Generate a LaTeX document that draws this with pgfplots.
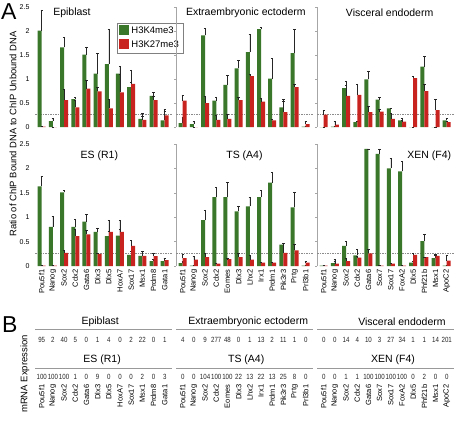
\documentclass[border=0pt]{standalone}
\usepackage{pgfplots}
\pgfplotsset{compat=1.18}
\usepackage{pgfplotstable}
\usepackage{graphicx}
\usepackage{fontspec}
\setmainfont{Liberation Sans}
\setsansfont{Liberation Sans}
\definecolor{kgreen}{HTML}{3A772A}
\definecolor{kred}{HTML}{C8231E}

% columns: x, H3K4me3 value, error, H3K27me3 value, error
\pgfplotstableread{
x g ge r re
0 2.01 0.43 0.01 0
1 0.12 0.06 0.00 0
2 1.66 0.22 0.56 0.22
3 0.58 0.04 0.41 0.14
4 1.51 0.16 0.80 0.17
5 1.11 0.43 0.74 0.09
6 1.31 0.72 0.39 0.18
7 1.11 0.15 0.72 0.37
8 0.83 0.10 0.90 0.29
9 0.17 0.12 0.15 0.07
10 0.65 0.07 0.56 0.08
11 0.14 0.22 0.24 0.09
}\epi
\pgfplotstableread{
x g ge r re
0 0.08 0.13 0.55 0.12
1 0.06 0.05 0.00 0
2 1.91 0.15 0.50 0.14
3 0.55 0.08 0.15 0.09
4 0.88 0.19 0.17 0.10
5 1.22 0.17 0.56 0.07
6 1.56 0.37 1.06 0.04
7 2.04 0.04 0.53 0.06
8 1.01 0.42 0.14 0.03
9 0.41 0.16 0.31 0.22
10 1.54 0.49 0.83 0.07
11 0.01 0 0.06 0.06
}\exe
\pgfplotstableread{
x g ge r re
0 0.00 0 0.26 0.08
1 0.01 0 0.05 0.07
2 0.81 0.15 0.65 0.22
3 0.10 0.03 0.67 0.23
4 0.99 0.18 0.31 0.13
5 0.57 0.05 0.32 0.04
6 0.39 0.01 0.17 0.11
7 0.14 0.05 0.11 0.03
8 0.00 0 1.02 0.04
9 1.26 0.21 0.75 0.15
10 0.00 0 0.35 0.23
11 0.14 0.04 0.10 0.03
}\ve
\pgfplotstableread{
x g ge r re
0 1.63 0.20 0.01 0
1 0.80 0.22 0.01 0
2 1.51 0.04 0.27 0.05
3 0.80 0.15 0.61 0.15
4 0.91 0.15 0.65 0.08
5 0.70 0.08 0.25 0.02
6 0.61 0.11 0.70 0.23
7 0.625 0.125 0.70 0.23
8 0.23 0.07 0.41 0.12
9 0.21 0.09 0.21 0.10
10 0.10 0.03 0.20 0.07
11 0.10 0.06 0.12 0.04
}\es
\pgfplotstableread{
x g ge r re
0 0.06 0.04 0.16 0.08
1 0.01 0 0.13 0.07
2 0.94 0.21 0.18 0.09
3 1.41 0.20 0.05 0
4 1.41 0.31 0.14 0.01
5 1.12 0.11 0.18 0.09
6 1.22 0.19 0.13 0.10
7 1.41 0.14 0.07 0.01
8 1.71 0.21 0.07 0.005
9 0.44 0.02 0.27 0.20
10 1.20 0.32 0.32 0.12
11 0.01 0 0.07 0.03
}\ts
\pgfplotstableread{
x g ge r re
0 0.01 0 0.01 0
1 0.06 0.04 0.05 0.08
2 0.41 0.10 0.10 0.06
3 0.22 0.12 0.17 0.04
4 2.40 0.00 0.26 0.08
5 2.30 0.10 0.01 0
6 2.00 0.20 0.05 0.01
7 1.94 0.20 0.01 0
8 0.07 0.03 0.23 0.04
9 0.51 0.15 0.18 0
10 0.16 0.07 0.21 0.04
11 0.01 0 0.11 0.11
}\xen

\def\genesL{Pou5f1,Nanog,Sox2,Cdx2,Gata6,Dlx3,Dlx5,HoxA7,Sox17,Msx1,Prdm8,Gata1}
\def\genesM{Pou5f1,Nanog,Sox2,Cdx2,Eomes,Dlx3,Lhx2,Irx1,Prdm1,Pik3r3,Prtg,Prl3b1}
\def\genesR{Pou5f1,Nanog,Sox2,Cdx2,Gata6,Sox7,Sox17,FoxA2,Dlx5,Phf21b,Msx1,ApoC2}

\pgfplotsset{
  panel/.style={
    scale only axis, width=137pt,
    xmin=-0.6, xmax=11.65, ymin=0, ymax=2.5,
    axis lines*=left,
    x axis line style={draw=none},
    y axis line style={draw=black!35, line width=0.5pt},
    xtick={0,...,11}, xticklabels={},
    x tick style={draw=none},
    ytick={0,0.5,1,1.5,2,2.5},
    y tick style={draw=black!35, line width=0.5pt},
    tick align=outside, major tick length=2pt,
    yticklabels={},
    tick label style={font=\fontsize{7}{8}\selectfont},
    xticklabel style={rotate=90, anchor=east, font=\fontsize{7.5}{8}\selectfont, inner sep=1.5pt},
    clip=false,
  },
  leftcol/.style={y axis line style={draw=none}, y tick style={draw=none},
    yticklabels={0,0.5,1,1.5,2,2.5}},
  gbar/.style={ybar, bar width=4pt, bar shift=-2pt, fill=kgreen, draw=none,
    error bars/.cd, y dir=plus, y explicit,
    error bar style={black!85, line width=0.5pt},
    error mark options={rotate=90, black!85, mark size=1.2pt, line width=0.5pt}},
  rbar/.style={ybar, bar width=4pt, bar shift=2pt, fill=kred, draw=none,
    error bars/.cd, y dir=plus, y explicit,
    error bar style={black!85, line width=0.5pt},
    error mark options={rotate=90, black!85, mark size=1.2pt, line width=0.5pt}},
  bpanel/.style={
    scale only axis, width=137pt, height=72pt,
    xmin=-0.6, xmax=11.65, ymin=38, ymax=110,
    axis lines*=left, axis line style={draw=none}, tick style={draw=none},
    xtick={0,...,11}, ytick=\empty, clip=false,
    xticklabel style={rotate=90, anchor=east, font=\fontsize{7.5}{8}\selectfont, inner sep=1.5pt},
  },
  numrow/.style={only marks, mark=*, mark size=0pt, mark options={draw=none, fill=none},
    point meta=explicit symbolic,
    nodes near coords={\scalebox{0.82}[1]{\pgfplotspointmeta}},
    every node near coord/.append style={anchor=center, inner sep=0pt, font=\fontsize{7.5}{8}\selectfont, text=black!85}},
}
\newcommand{\dashref}{\draw[black!45, line width=0.4pt, dash pattern=on 1.5pt off 1pt] (axis cs:-0.6,0.27) -- (axis cs:11.65,0.27);}
\newcommand{\ttl}[3]{\node[font=\fontsize{10.5}{12}\selectfont] at (rel axis cs:#1,#2) {#3};}

\begin{document}
\begin{tikzpicture}
\useasboundingbox (0pt,0pt) rectangle (454pt,421pt);

% ---------- Panel A, top row ----------
\begin{axis}[panel, leftcol, height=120pt, at={(35pt,294pt)}, anchor=south west,
  legend style={at={(0.6,0.867)}, anchor=north west, draw=black!50, line width=0.5pt,
    font=\fontsize{9.5}{11}\selectfont, inner sep=2pt, row sep=2pt, cells={anchor=west}},
  legend image code/.code={\fill[#1] (0pt,-0.4em) rectangle (10pt,0.6em);}]
\dashref
\addplot[gbar] table[x=x, y=g, y error=ge]{\epi};
\addlegendentry{H3K4me3}
\addplot[rbar] table[x=x, y=r, y error=re]{\epi};
\addlegendentry{H3K27me3}
\ttl{0.27}{0.95}{Epiblast}
\end{axis}

\begin{axis}[panel, height=120pt, at={(176pt,294pt)}, anchor=south west]
\dashref
\addplot[gbar] table[x=x, y=g, y error=ge]{\exe};
\addplot[rbar] table[x=x, y=r, y error=re]{\exe};
\ttl{0.51}{0.95}{Extraembryonic ectoderm}
\end{axis}

\begin{axis}[panel, height=120pt, at={(317pt,294pt)}, anchor=south west]
\dashref
\addplot[gbar] table[x=x, y=g, y error=ge]{\ve};
\addplot[rbar] table[x=x, y=r, y error=re]{\ve};
\ttl{0.53}{0.95}{Visceral endoderm}
\end{axis}

% ---------- Panel A, bottom row ----------
\begin{axis}[panel, leftcol, height=122pt, at={(35pt,155pt)}, anchor=south west,
  xticklabels/.expanded={\genesL}]
\dashref
\addplot[gbar] table[x=x, y=g, y error=ge]{\es};
\addplot[rbar] table[x=x, y=r, y error=re]{\es};
\ttl{0.47}{0.90}{ES (R1)}
\end{axis}

\begin{axis}[panel, height=122pt, at={(176pt,155pt)}, anchor=south west,
  xticklabels/.expanded={\genesM}]
\dashref
\addplot[gbar] table[x=x, y=g, y error=ge]{\ts};
\addplot[rbar] table[x=x, y=r, y error=re]{\ts};
\ttl{0.50}{0.90}{TS (A4)}
\end{axis}

\begin{axis}[panel, height=122pt, at={(317pt,155pt)}, anchor=south west,
  xticklabels/.expanded={\genesR}]
\dashref
\addplot[gbar] table[x=x, y=g, y error=ge]{\xen};
\addplot[rbar] table[x=x, y=r, y error=re]{\xen};
\ttl{0.82}{0.90}{XEN (F4)}
\end{axis}

% ---------- Panel B ----------
\begin{axis}[bpanel, at={(35pt,38pt)}, anchor=south west, xticklabels/.expanded={\genesL}]
\addplot[numrow] coordinates {(0,81)[95] (1,81)[2] (2,81)[40] (3,81)[5] (4,81)[0] (5,81)[1] (6,81)[4] (7,81)[0] (8,81)[2] (9,81)[22] (10,81)[0] (11,81)[1]};
\addplot[numrow] coordinates {(0,44)[100] (1,44)[100] (2,44)[100] (3,44)[1] (4,44)[0] (5,44)[9] (6,44)[0] (7,44)[0] (8,44)[0] (9,44)[2] (10,44)[0] (11,44)[3]};
\draw[black!40, line width=0.5pt] (axis cs:-0.6,92) -- (axis cs:11.65,92);
\draw[black!40, line width=0.5pt] (axis cs:-0.6,53) -- (axis cs:11.65,53);
\node[font=\fontsize{10.5}{12}\selectfont] at (axis cs:5.23,99) {Epiblast};
\node[font=\fontsize{10.5}{12}\selectfont] at (axis cs:5.4,61) {ES (R1)};
\end{axis}

\begin{axis}[bpanel, at={(176pt,38pt)}, anchor=south west, xticklabels/.expanded={\genesM}]
\addplot[numrow] coordinates {(0,81)[4] (1,81)[0] (2,81)[9] (3,81)[277] (4,81)[48] (5,81)[0] (6,81)[1] (7,81)[13] (8,81)[2] (9,81)[11] (10,81)[1] (11,81)[0]};
\addplot[numrow] coordinates {(0,44)[0] (1,44)[0] (2,44)[104] (3,44)[100] (4,44)[100] (5,44)[22] (6,44)[13] (7,44)[22] (8,44)[13] (9,44)[25] (10,44)[8] (11,44)[0]};
\draw[black!40, line width=0.5pt] (axis cs:-0.6,92) -- (axis cs:11.65,92);
\draw[black!40, line width=0.5pt] (axis cs:-0.6,53) -- (axis cs:11.65,53);
\node[font=\fontsize{10.5}{12}\selectfont] at (axis cs:5.86,99) {Extraembryonic ectoderm};
\node[font=\fontsize{10.5}{12}\selectfont] at (axis cs:5.68,61) {TS (A4)};
\end{axis}

\begin{axis}[bpanel, at={(317pt,38pt)}, anchor=south west, xticklabels/.expanded={\genesR}]
\addplot[numrow] coordinates {(0,81)[0] (1,81)[0] (2,81)[14] (3,81)[4] (4,81)[10] (5,81)[3] (6,81)[27] (7,81)[34] (8,81)[1] (9,81)[1] (10,81)[14] (11,81)[201]};
\addplot[numrow] coordinates {(0,44)[0] (1,44)[0] (2,44)[1] (3,44)[1] (4,44)[100] (5,44)[100] (6,44)[100] (7,44)[100] (8,44)[0] (9,44)[2] (10,44)[0] (11,44)[0]};
\draw[black!40, line width=0.5pt] (axis cs:-0.6,92) -- (axis cs:11.65,92);
\draw[black!40, line width=0.5pt] (axis cs:-0.6,53) -- (axis cs:11.65,53);
\node[font=\fontsize{10.5}{12}\selectfont] at (axis cs:7.0,99) {Visceral endoderm};
\node[font=\fontsize{10.5}{12}\selectfont] at (axis cs:6.2,61) {XEN (F4)};
\end{axis}

% ---------- labels ----------
\node[anchor=base west, inner sep=0pt, font=\fontsize{23}{23}\selectfont] at (1pt,401pt) {A};
\node[anchor=base west, inner sep=0pt, font=\fontsize{23}{23}\selectfont] at (2pt,89pt) {B};
\node[rotate=90, font=\fontsize{9.4}{11}\selectfont] at (13pt,287pt) {Ratio of ChIP Bound DNA to ChIP Unbound DNA};
\node[rotate=90, font=\fontsize{9.5}{11}\selectfont] at (25pt,47pt) {mRNA Expression};
\end{tikzpicture}
\end{document}
